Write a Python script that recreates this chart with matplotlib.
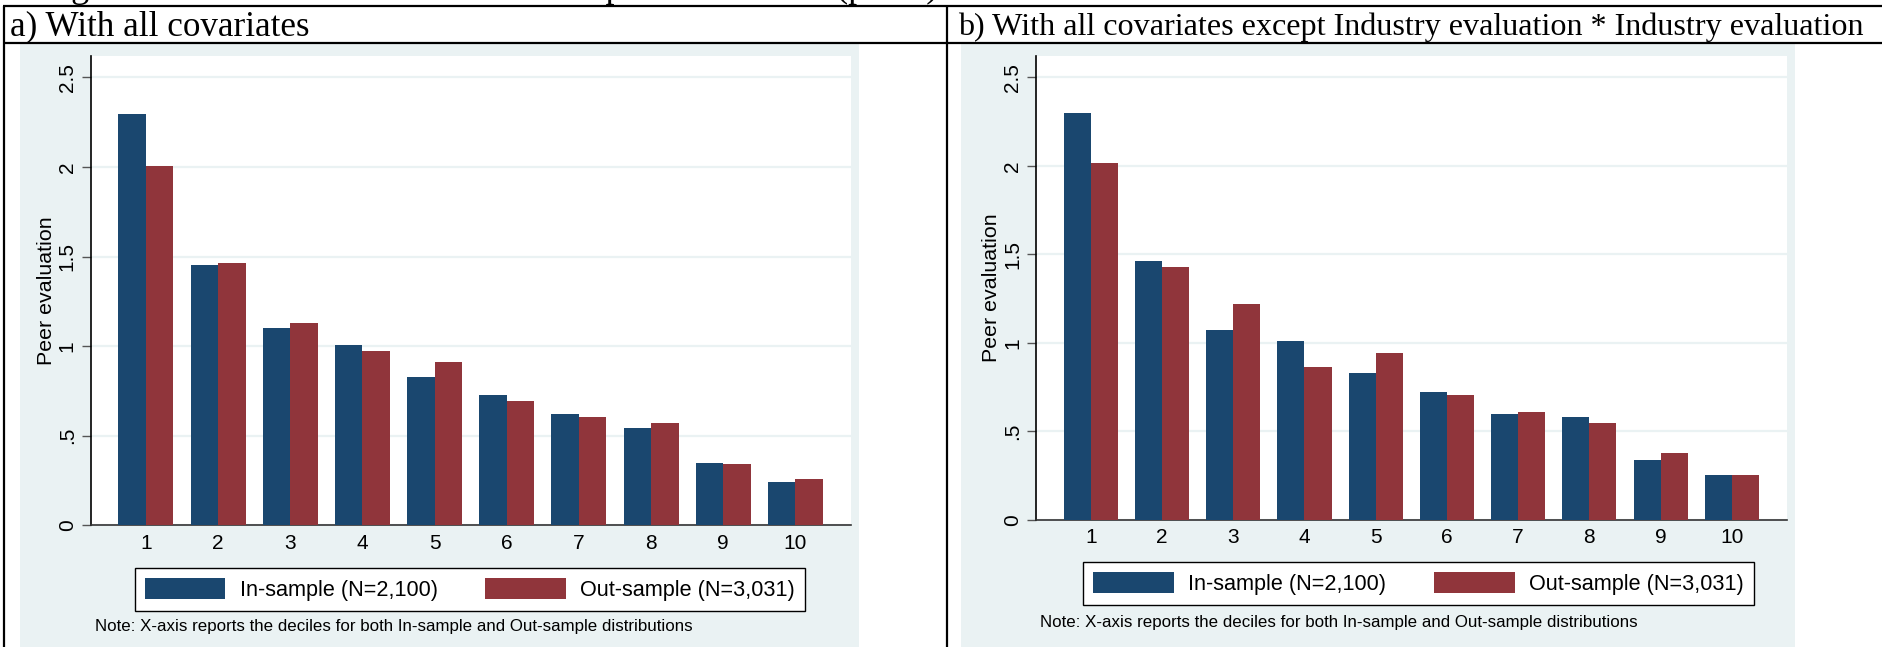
import matplotlib
matplotlib.use('Agg')
import matplotlib.pyplot as plt
from matplotlib.patches import Patch, Rectangle
from matplotlib.lines import Line2D
import numpy as np

# ---------------- data ----------------
deciles = [1, 2, 3, 4, 5, 6, 7, 8, 9, 10]
xtick_labels = ['1', '2', '3', '4', '5', '6', '7', '8', '9', '10']
in_sample_a = [2.297, 1.455, 1.104, 1.005, 0.826, 0.726, 0.620, 0.542, 0.347, 0.241]
out_sample_a = [2.007, 1.466, 1.130, 0.971, 0.910, 0.693, 0.603, 0.570, 0.342, 0.258]
in_sample_b = [2.299, 1.461, 1.072, 1.009, 0.832, 0.721, 0.599, 0.582, 0.337, 0.252]
out_sample_b = [2.013, 1.429, 1.222, 0.863, 0.944, 0.704, 0.608, 0.548, 0.377, 0.252]
yticks = [0, 0.5, 1, 1.5, 2, 2.5]
ytick_labels = ['0', '.5', '1', '1.5', '2', '2.5']
series_labels = ['In-sample (N=2,100)', 'Out-sample (N=3,031)']
panel_titles = ['a) With all covariates',
                'b) With all covariates except Industry evaluation * Industry evaluation']
caption = 'Figure 3: Distribution of the estimated peer evaluation (panel)'
note_text = 'Note: X-axis reports the deciles for both In-sample and Out-sample distributions'
y_title = 'Peer evaluation'

# ---------------- style ----------------
NAVY = '#1A476F'
MAROON = '#90353B'
BG = '#EAF2F3'
SANS = ['Liberation Sans', 'DejaVu Sans']
SERIF = ['Liberation Serif', 'DejaVu Serif']
plt.rcParams['font.family'] = SANS

W, H = 1883, 647
fig = plt.figure(figsize=(W / 100, H / 100), dpi=100)
fig.patch.set_facecolor('white')


def fx(x):
    return x / W


def fy(y):
    return 1 - y / H


# graph backgrounds (Stata graph region)
for (x0, x1) in [(20, 859), (961, 1795)]:
    fig.patches.append(Rectangle((fx(x0), 0), (x1 - x0) / W, fy(44),
                                 transform=fig.transFigure, facecolor=BG,
                                 edgecolor='none', zorder=-10))

# table lines
lw_tab = 1.6
for (xa, ya, xb, yb) in [(3, 6, W, 6), (3, 43, W, 43), (4, 6, 4, H), (947, 6, 947, H)]:
    fig.add_artist(Line2D([fx(xa), fx(xb)], [fy(ya), fy(yb)], transform=fig.transFigure,
                          color='black', lw=lw_tab, solid_capstyle='butt', zorder=5))

# clipped caption above the table (only descenders are visible)
fig.text(fx(41), fy(-3), caption, family=SERIF, fontsize=26, va='baseline', ha='left')

# panel titles
fig.text(fx(10), fy(35), panel_titles[0], family=SERIF, fontsize=25.2, va='baseline')
fig.text(fx(958), fy(35), panel_titles[1], family=SERIF, fontsize=23.1, va='baseline')

panels = [
    dict(rect=(90.7, 56, 851, 525.3), vals=(in_sample_a, out_sample_a),
         leg=(0.4986, -0.091), note=(95, 627)),
    dict(rect=(1036.3, 56, 1786.7, 520), vals=(in_sample_b, out_sample_b),
         leg=(0.5093, -0.0905), note=(1040, 622)),
]

FS = 15.0
LFS = 15.6
x = np.array(deciles, dtype=float)
bw = 0.38
for p in panels:
    x0, y0, x1, y1 = p['rect']
    ax = fig.add_axes([fx(x0), fy(y1), (x1 - x0) / W, (y1 - y0) / H])
    ax.set_zorder(1)
    ax.set_facecolor('white')
    ins, outs = p['vals']
    ax.bar(x - bw / 2, ins, bw, color=NAVY, zorder=3, linewidth=0)
    ax.bar(x + bw / 2, outs, bw, color=MAROON, zorder=3, linewidth=0)
    ax.set_xlim(0.235, 10.77)
    ax.set_ylim(0, 2.62)
    ax.set_xticks(x)
    ax.set_xticklabels(xtick_labels)
    ax.set_yticks(yticks)
    ax.set_yticklabels(ytick_labels)
    ax.yaxis.grid(True, color=BG, lw=1.6, zorder=0)
    ax.set_axisbelow(True)
    for s in ['top', 'right']:
        ax.spines[s].set_visible(False)
    ax.spines['left'].set_color('black')
    ax.spines['left'].set_linewidth(1.2)
    ax.spines['bottom'].set_color('#333333')
    ax.spines['bottom'].set_linewidth(1.2)
    ax.tick_params(axis='x', length=0, labelsize=FS, pad=6)
    ax.tick_params(axis='y', length=6.5, width=1.0, color='#555555', labelsize=FS,
                   pad=3.5, labelrotation=90)
    for lab in ax.get_yticklabels():
        lab.set_va('center')
    ax.set_ylabel(y_title, fontsize=15.4, labelpad=1.5)
    leg = ax.legend(handles=[Patch(facecolor=NAVY, edgecolor='none'),
                             Patch(facecolor=MAROON, edgecolor='none')],
                    labels=series_labels, loc='upper center', bbox_to_anchor=p['leg'],
                    ncol=2, frameon=True, fancybox=False, edgecolor='black',
                    framealpha=1, fontsize=LFS, handlelength=3.73, handleheight=1.1,
                    handletextpad=0.65, columnspacing=2.2, borderpad=0.46,
                    borderaxespad=0)
    leg.get_frame().set_linewidth(1.0)
    nx, ny = p['note']
    fig.text(fx(nx), fy(ny), note_text, fontsize=12.2, va='center', ha='left')

fig.savefig('out.png', dpi=100)
